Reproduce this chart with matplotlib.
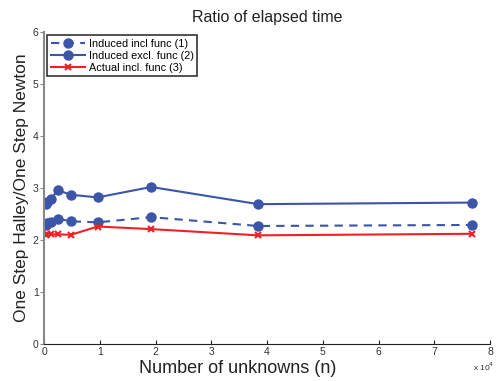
import numpy as np
import matplotlib.pyplot as plt

plt.rcParams['font.family'] = ['Liberation Sans', 'DejaVu Sans']

n = [300, 600, 1200, 2400, 4800, 9600, 19200, 38400, 76800]
induced_incl = [2.28, 2.32, 2.35, 2.41, 2.36, 2.34, 2.44, 2.27, 2.29]
induced_excl = [2.69, 2.74, 2.78, 2.96, 2.87, 2.82, 3.02, 2.69, 2.72]
actual_incl = [2.10, 2.11, 2.11, 2.11, 2.10, 2.26, 2.21, 2.09, 2.12]

blue = '#3b55a8'
red = '#ee2127'

fig = plt.figure(figsize=(4.96, 3.81), dpi=100)
ax = fig.add_axes([0.089, 0.097, 0.899, 0.819])

ax.plot(n, induced_incl, '--o', color=blue, linewidth=1.5, markersize=6.5, dashes=(4, 3), label='Induced incl func (1)')
ax.plot(n, induced_excl, '-o', color=blue, linewidth=1.5, markersize=6.5, label='Induced excl. func (2)')
ax.plot(n, actual_incl, '-x', color=red, linewidth=1.5, markersize=4, markeredgewidth=1.5, label='Actual incl. func (3)')

ax.set_xlim(0, 80000)
ax.set_ylim(0, 6)
ax.set_xticks(np.arange(0, 80001, 10000))
ax.set_xticklabels([str(i) for i in range(9)])
ax.set_yticks(range(7))

ax.spines['top'].set_visible(False)
ax.spines['right'].set_visible(False)
ax.spines['left'].set_color('#888888')
ax.spines['left'].set_linewidth(1.5)
ax.spines['bottom'].set_color('#222222')
ax.tick_params(axis='x', direction='in', length=3, labelsize=7.5, pad=2, color='#222222', labelcolor='#333333')
ax.tick_params(axis='y', direction='out', length=3, labelsize=7.5, pad=1, color='#888888', labelcolor='#333333')

ax.set_title('Ratio of elapsed time', fontsize=11.5, color='#222222', pad=7)
ax.set_xlabel('Number of unknowns (n)', fontsize=13, color='#222222', labelpad=0)
ax.xaxis.set_label_coords(0.435, -0.05)
ax.set_ylabel('One Step Halley/One Step Newton', fontsize=12.5, color='#222222', labelpad=3)
fig.text(0.975, 0.02, r'x 10$^4$', fontsize=6, ha='center', va='bottom', color='#333333')

leg = ax.legend(loc='upper left', fontsize=7.8, frameon=True, fancybox=False, edgecolor='black',
                borderpad=0.3, labelspacing=0.2, handlelength=3.2, handletextpad=0.3,
                borderaxespad=0.3, bbox_to_anchor=(0.0, 1.0))
leg.get_frame().set_linewidth(1.2)

plt.savefig('out.png', dpi=100)
